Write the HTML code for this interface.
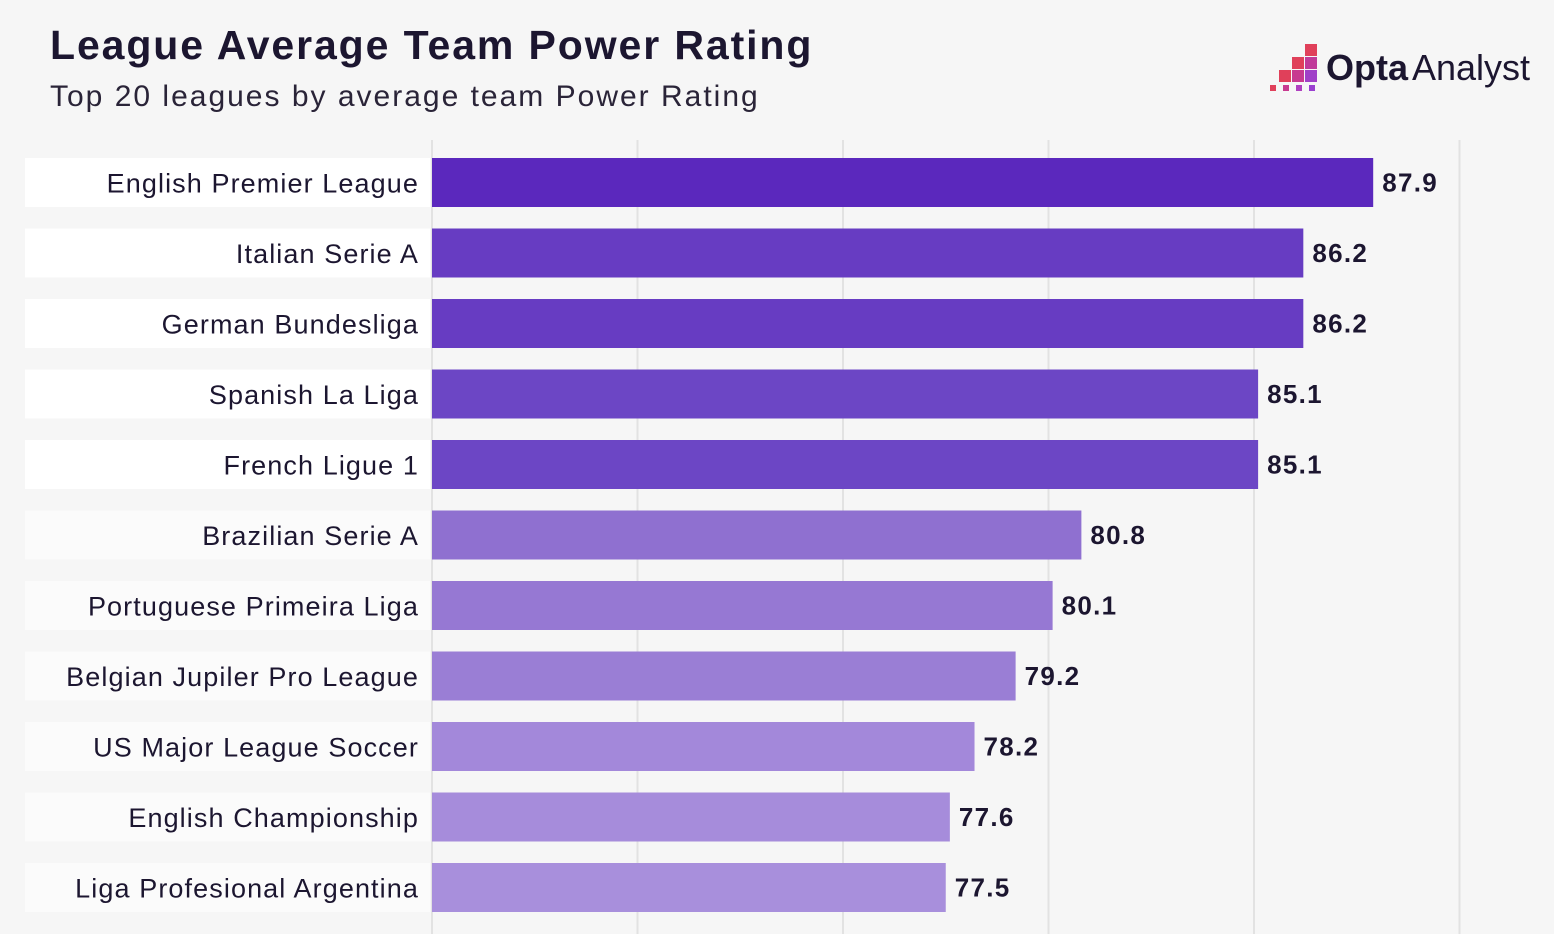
<!DOCTYPE html>
<html><head><meta charset="utf-8"><style>
body{margin:0;width:1554px;height:934px;background:#f6f6f6;overflow:hidden;font-family:"Liberation Sans",sans-serif;color:#1c1630;position:relative}
#title{position:absolute;left:50px;top:22px;font-size:41px;font-weight:bold;letter-spacing:1.9px}
#sub{position:absolute;left:50px;top:80px;font-size:30px;color:#2a2438;letter-spacing:2px}
#logo{position:absolute;left:1268px;top:40px}
</style></head><body>
<div id="title">League Average Team Power Rating</div>
<div id="sub">Top 20 leagues by average team Power Rating</div>
<svg id="logo" width="270" height="56">
<rect x="37" y="4" width="12" height="12" fill="#e0405a"/>
<rect x="24" y="17" width="12" height="12" fill="#e0405a"/><rect x="37" y="17" width="12" height="12" fill="#c03a9a"/>
<rect x="11" y="30" width="12" height="12" fill="#e0405a"/><rect x="24" y="30" width="12" height="12" fill="#c83a90"/><rect x="37" y="30" width="12" height="12" fill="#a040c8"/>
<rect x="2" y="45" width="6" height="6" fill="#e0405a"/><rect x="15" y="45" width="6" height="6" fill="#c83a90"/><rect x="28" y="45" width="6" height="6" fill="#b040c0"/><rect x="41" y="45" width="6" height="6" fill="#9a40d0"/>
<text x="58" y="40" font-size="36" font-weight="bold" fill="#1c1630" font-family="Liberation Sans">Opta</text>
<text x="144" y="40" font-size="36" fill="#1c1630" font-family="Liberation Sans">Analyst</text>
</svg>
<svg id="chart" width="1554" height="934" style="position:absolute;left:0;top:0"></svg>
<script>
const categories=["English Premier League","Italian Serie A","German Bundesliga","Spanish La Liga","French Ligue 1","Brazilian Serie A","Portuguese Primeira Liga","Belgian Jupiler Pro League","US Major League Soccer","English Championship","Liga Profesional Argentina"];
const values=[87.9,86.2,86.2,85.1,85.1,80.8,80.1,79.2,78.2,77.6,77.5];
const ticks=[65,70,75,80,85,90];
const colors=["#5b28bd","#673cc2","#673cc2","#6c46c5","#6c46c5","#8f70d0","#9678d3","#9a7ed5","#a388da","#a68cdb","#a88fdc"];
const svg=document.getElementById('chart');const NS="http://www.w3.org/2000/svg";
const x0=432,scale=41.1,xmin=65;
const x=v=>x0+(v-xmin)*scale;
const rowY=i=>158+i*70.5,bh=49;
function mk(t,a){const e=document.createElementNS(NS,t);for(const k in a)e.setAttribute(k,a[k]);svg.appendChild(e);return e;}
categories.forEach((c,i)=>{const r=mk('rect',{x:25,y:rowY(i),width:405,height:bh,fill:i<5?'#ffffff':'#fbfbfb'});

});
ticks.forEach(t=>{const l=mk('line',{x1:x(t),x2:x(t),y1:140,y2:934,stroke:'#e2e2e2','stroke-width':2});

});
categories.forEach((c,i)=>{
const y=rowY(i);
const b=mk('rect',{x:x0,y:y,width:x(values[i])-x0,height:bh,fill:colors[i]});


const t=mk('text',{x:419,y:y+bh/2+10,'text-anchor':'end','font-size':27,'letter-spacing':1.1,fill:'#1c1630','font-family':'Liberation Sans'});t.textContent=c;


const v=mk('text',{x:x(values[i])+9,y:y+bh/2+9,'font-size':26,'font-weight':'bold','letter-spacing':1.3,fill:'#1c1630','font-family':'Liberation Sans'});v.textContent=values[i].toFixed(1);


});
</script>
</body></html>
